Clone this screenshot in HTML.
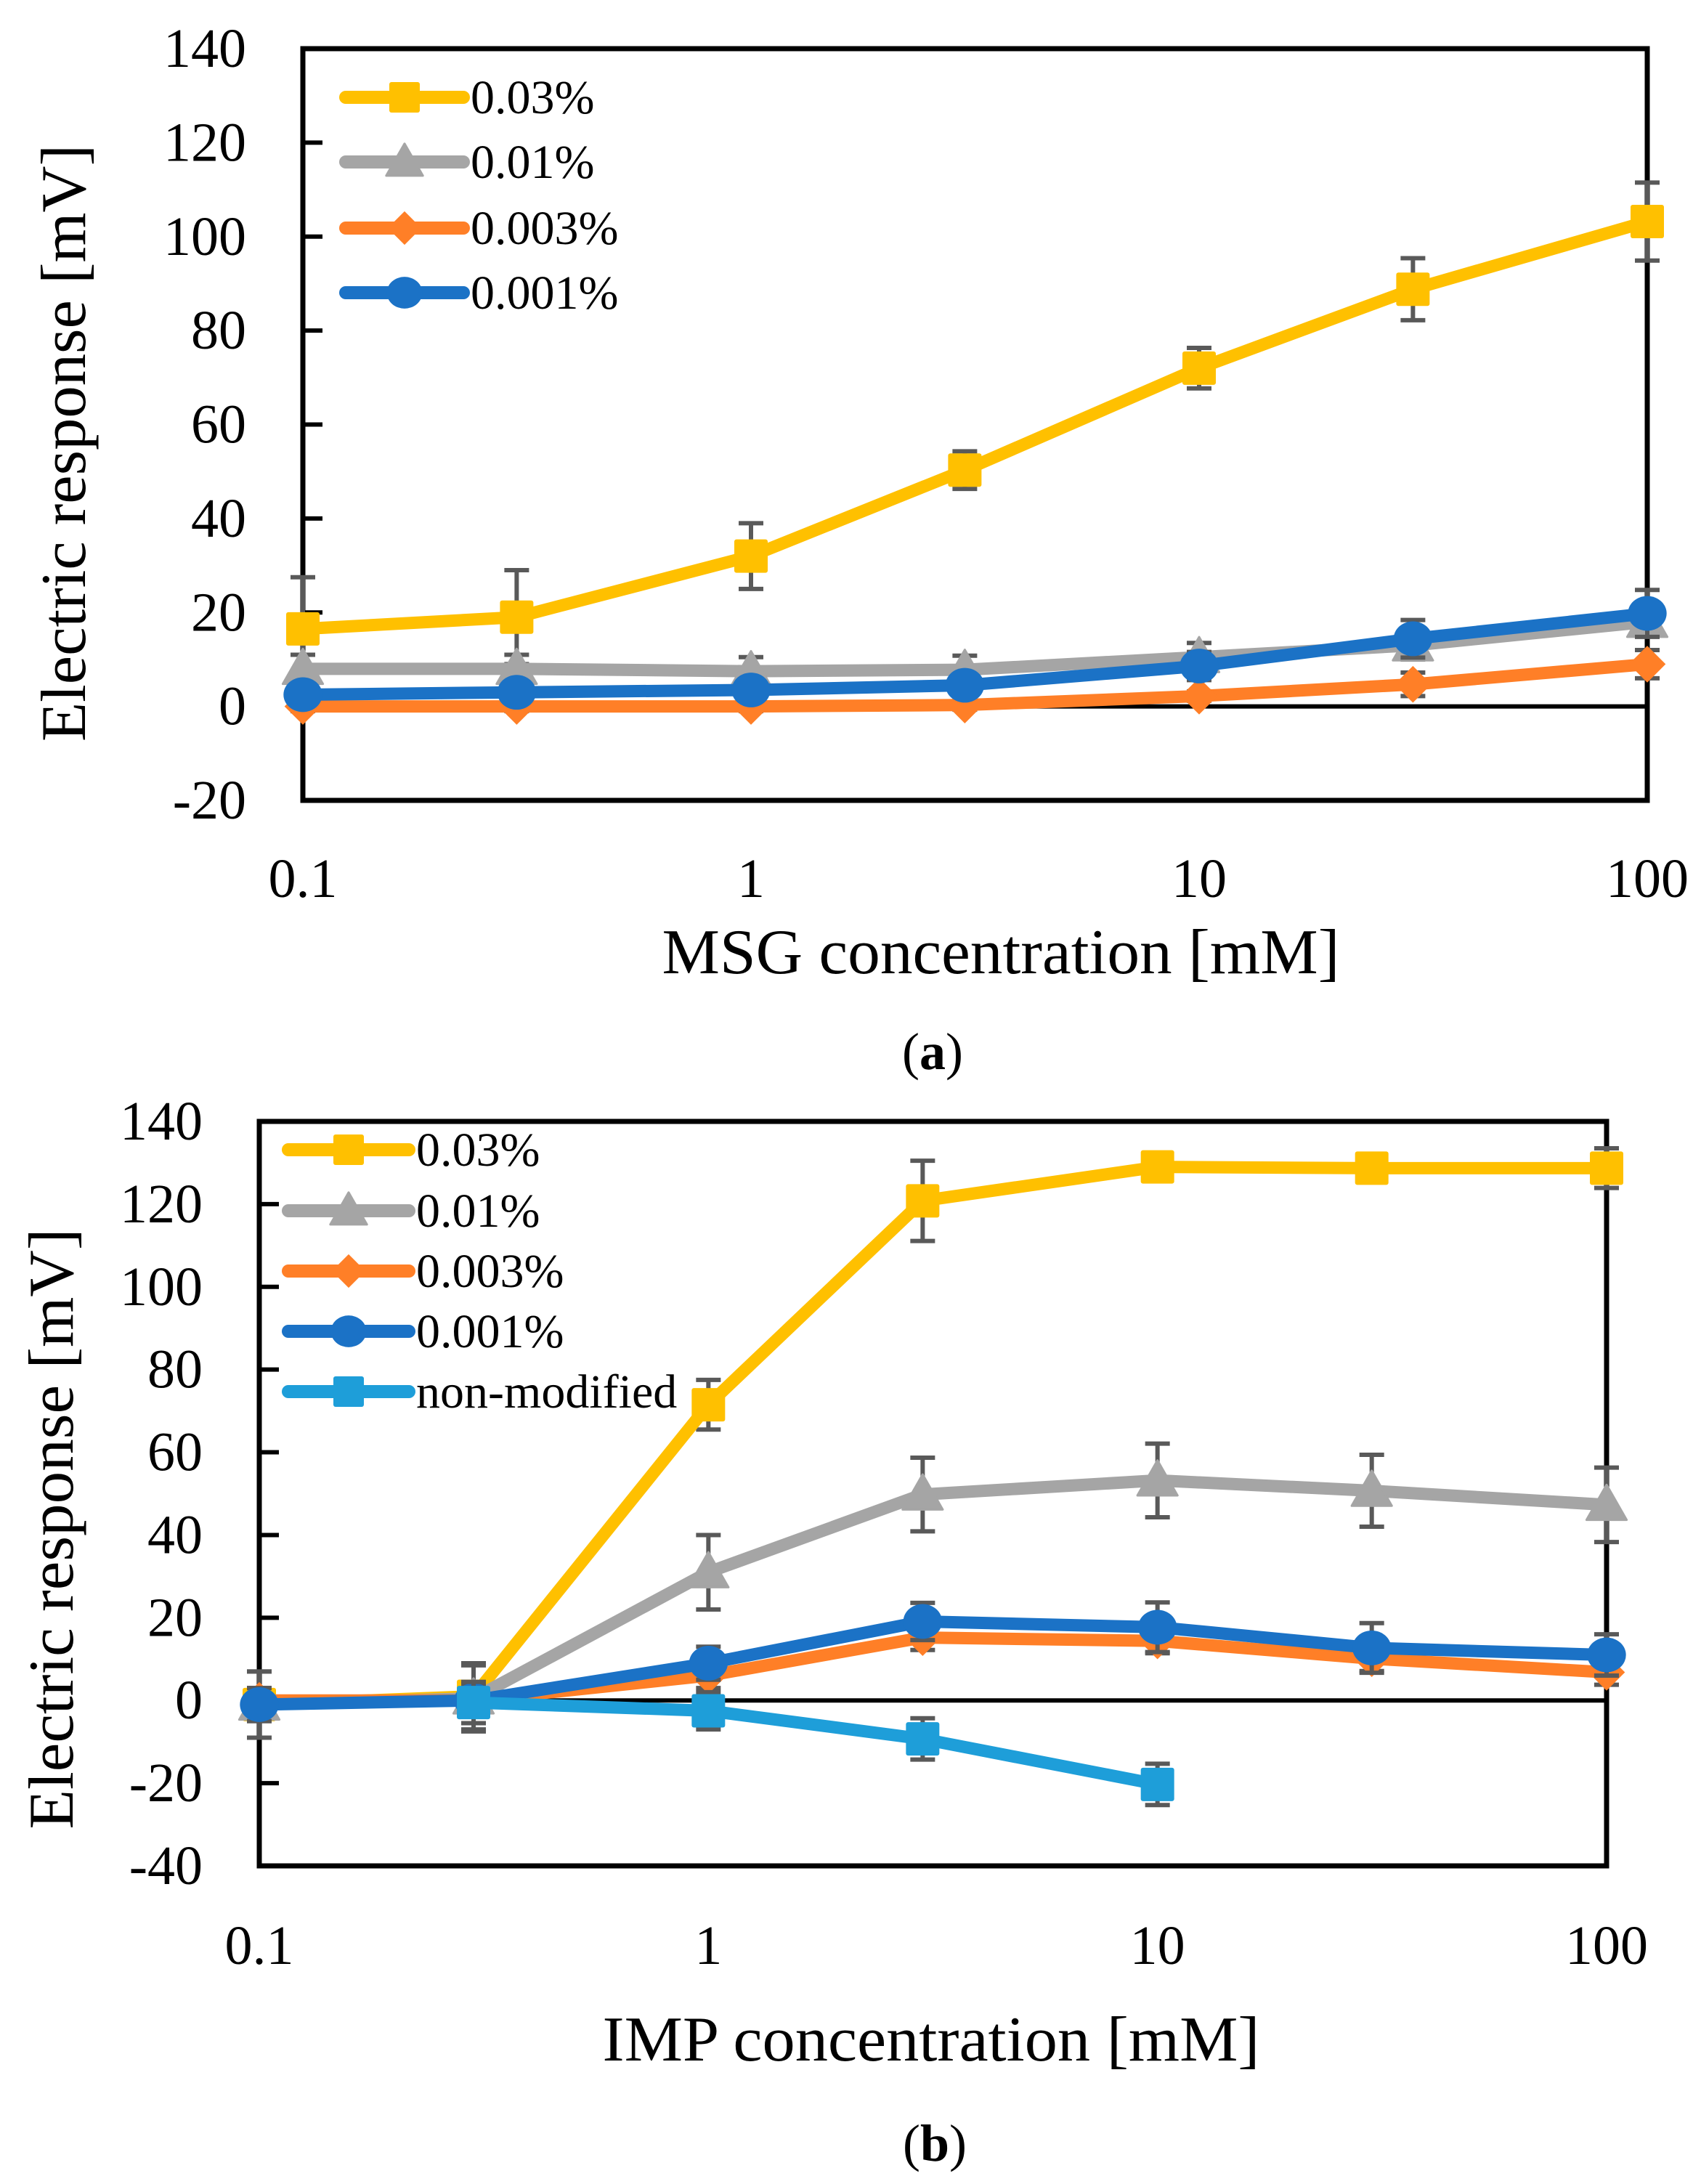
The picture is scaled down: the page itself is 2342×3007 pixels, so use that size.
<!DOCTYPE html>
<html><head><meta charset="utf-8">
<style>
html,body{margin:0;padding:0;background:#fff;}
svg{display:block;}
text{font-family:"Liberation Serif",serif;fill:#000;}
</style></head>
<body>
<svg id="fig" width="2342" height="3007" viewBox="0 0 2342 3007" xmlns="http://www.w3.org/2000/svg">
<g id="chartA"></g>
<g id="chartB"></g>
<text x="1284" y="1472" font-size="72" text-anchor="middle">(<tspan font-weight="bold">a</tspan>)</text>
<text x="1287" y="2975" font-size="72" text-anchor="middle">(<tspan font-weight="bold">b</tspan>)</text>
</svg>
<script>
// ---- data ----
const concX = [0.1, 0.3, 1, 3, 10, 30, 100];
const xTickLabels = ["0.1", "1", "10", "100"];
const xTickValues = [0.1, 1, 10, 100];
const seriesNamesA = ["0.03%", "0.01%", "0.003%", "0.001%"];
const a003 = [16.5, 19, 32, 50.3, 72, 88.8, 103.2];
const a001 = [8, 8, 7.5, 7.8, 10.5, 13, 18];
const a0003 = [0, 0, 0, 0.3, 2.2, 4.7, 9];
const a0001 = [2.5, 3, 3.5, 4.5, 8.6, 14.4, 19.8];
const a003Err = [11, 10, 7, 4, 4.3, 6.6, 8.3];
const a001Err = [3, 3, 3, 3, 3, 3, 3];
const a0003Err = [1, 1, 1, 1, 1, 2.5, 3];
const a0001Err = [2, 2, 2, 2, 3, 4, 5];
const aYTicks = [-20, 0, 20, 40, 60, 80, 100, 120, 140];

const seriesNamesB = ["0.03%", "0.01%", "0.003%", "0.001%", "non-modified"];
const b003 = [-1, 1, 71.5, 120.8, 129, 128.7, 128.7];
const b001 = [-1, 0.5, 31, 49.8, 53.2, 50.7, 47.3];
const b0003 = [0, 0, 6, 15.2, 14.4, 10.1, 6.8];
const b0001 = [-1, 0, 9, 19.1, 17.7, 12.7, 11];
const nonModX = [0.3, 1, 3, 10];
const bNon = [-0.5, -2.5, -9.3, -20.3];
const b003Err = [8, 8, 6, 9.7, 1, 1, 4.8];
const b001Err = [8, 8, 9, 8.9, 8.9, 8.7, 9];
const b0003Err = [3, 3, 3, 3, 3, 3, 3];
const b0001Err = [4, 4, 4, 4.5, 6, 6, 5];
const bNonErr = [5, 4.5, 5, 5];
const bYTicks = [-40, -20, 0, 20, 40, 60, 80, 100, 120, 140];

const NS = "http://www.w3.org/2000/svg";
const COLORS = {y:"#FFC000", g:"#A5A5A5", o:"#FF7F27", b:"#1B72C6", lb:"#1E9ED9"};
function el(parent, tag, attrs, txt){
  const e = document.createElementNS(NS, tag);
  for (const k in attrs) e.setAttribute(k, attrs[k]);
  if (txt !== undefined) e.textContent = txt;
  parent.appendChild(e);
  return e;
}
function marker(g, shape, cx, cy, color, s){
  let m;
  if (shape === "square") m = el(g, "rect", {x:cx-s/2, y:cy-s/2, width:s, height:s, rx:3, fill:color});
  else if (shape === "tri") m = el(g, "polygon", {points:`${cx},${cy-s*0.6} ${cx+s*0.6},${cy+s*0.45} ${cx-s*0.6},${cy+s*0.45}`, fill:color, "stroke-linejoin":"round", stroke:color, "stroke-width":3});
  else if (shape === "diamond") m = el(g, "polygon", {points:`${cx},${cy-s*0.55} ${cx+s*0.55},${cy} ${cx},${cy+s*0.55} ${cx-s*0.55},${cy}`, fill:color});
  else m = el(g, "ellipse", {cx:cx, cy:cy, rx:s*0.58, ry:s*0.52, fill:color});
  return m;
}
function drawChart(cfg){
  const g = document.getElementById(cfg.id);
  const X = v => cfg.left + (Math.log10(v) - Math.log10(0.1)) / 3 * (cfg.right - cfg.left);
  const Y = v => cfg.bottom - (v - cfg.yMin) / (cfg.yMax - cfg.yMin) * (cfg.bottom - cfg.top);
  cfg.yTicks.forEach(t => {
    const tk = el(g, "line", {x1:cfg.left, x2:cfg.left+27, y1:Y(t), y2:Y(t), stroke:"#000", "stroke-width":6});
    
    
    const lb = el(g, "text", {x:cfg.yLabelX, y:Y(t)+25, "font-size":76, "text-anchor":"end"}, String(t));
    
    
  });
  xTickValues.forEach((v, i) => {
    const lb = el(g, "text", {x:X(v), y:cfg.xLabelY, "font-size":76, "text-anchor":"middle"}, xTickLabels[i]);
    
    
  });
  const z = el(g, "line", {x1:cfg.left, x2:cfg.right, y1:Y(0), y2:Y(0), stroke:"#000", "stroke-width":6});
  
  
  const fr = el(g, "rect", {x:cfg.left, y:cfg.top, width:cfg.right-cfg.left, height:cfg.bottom-cfg.top, fill:"none", stroke:"#000", "stroke-width":7});
  
  
  cfg.series.forEach(s => {
    const sg = el(g, "g", {});
    
    
    s.xs.forEach((xv, i) => {
      const e = s.err[i]; if (!e) return;
      const x = X(xv), y1 = Y(s.vals[i]+e), y2 = Y(s.vals[i]-e);
      const eb = el(sg, "path", {d:`M${x},${y1}V${y2}M${x-17},${y1}H${x+17}M${x-17},${y2}H${x+17}`, stroke:"#595959", "stroke-width":6, fill:"none"});
      
      
    });
    const pts = s.xs.map((xv, i) => X(xv) + "," + Y(s.vals[i])).join(" ");
    const ln = el(sg, "polyline", {points:pts, fill:"none", stroke:s.color, "stroke-width":17, "stroke-linejoin":"round"});
    
    
    s.xs.forEach((xv, i) => {
      const m = marker(sg, s.shape, X(xv), Y(s.vals[i]), s.color, 46);
      
      
    });
  });
  const lg = el(g, "g", {});
  
  
  cfg.series.forEach((s, i) => {
    const y = cfg.legY[i];
    const it = el(lg, "g", {});
    
    
    el(it, "line", {x1:cfg.legX1, x2:cfg.legX2, y1:y, y2:y, stroke:s.color, "stroke-width":18, "stroke-linecap":"round"});
    marker(it, s.shape, (cfg.legX1+cfg.legX2)/2, y, s.color, 42);
    el(it, "text", {x:cfg.legX2+10, y:y+22, "font-size":66}, s.name);
  });
  const xt = el(g, "text", {x:cfg.xTitleX, y:cfg.xTitleY, "font-size":88, "text-anchor":"middle", textLength:cfg.xTitleW, lengthAdjust:"spacingAndGlyphs"}, cfg.xTitle);
  
  
  const yt = el(g, "text", {x:0, y:0, "font-size":88, "text-anchor":"middle", textLength:cfg.yTitleW, lengthAdjust:"spacingAndGlyphs", transform:`translate(${cfg.yTitleX},${cfg.yTitleY}) rotate(-90)`}, "Electric response [mV]");
  
  
}
drawChart({
  id:"chartA", left:417, right:2268, top:67, bottom:1102, yMin:-20, yMax:140, yTicks:aYTicks,
  yLabelX:339, xLabelY:1235, xTitle:"MSG concentration [mM]", xTitleX:1378, xTitleY:1340, xTitleW:933,
  yTitleX:117, yTitleY:610, yTitleW:822,
  legX1:476, legX2:638, legY:[134, 223, 314, 403],
  series:[
    {key:"0-03", name:seriesNamesA[0], xs:concX, vals:a003, err:a003Err, color:COLORS.y, shape:"square"},
    {key:"0-01", name:seriesNamesA[1], xs:concX, vals:a001, err:a001Err, color:COLORS.g, shape:"tri"},
    {key:"0-003", name:seriesNamesA[2], xs:concX, vals:a0003, err:a0003Err, color:COLORS.o, shape:"diamond"},
    {key:"0-001", name:seriesNamesA[3], xs:concX, vals:a0001, err:a0001Err, color:COLORS.b, shape:"circle"}
  ]
});
drawChart({
  id:"chartB", left:357, right:2212, top:1544, bottom:2569, yMin:-40, yMax:140, yTicks:bYTicks,
  yLabelX:279, xLabelY:2704, xTitle:"IMP concentration [mM]", xTitleX:1282, xTitleY:2837, xTitleW:905,
  yTitleX:100, yTitleY:2105, yTitleW:827,
  legX1:397, legX2:563, legY:[1583, 1667, 1750, 1833, 1916],
  series:[
    {key:"0-03", name:seriesNamesB[0], xs:concX, vals:b003, err:b003Err, color:COLORS.y, shape:"square"},
    {key:"0-01", name:seriesNamesB[1], xs:concX, vals:b001, err:b001Err, color:COLORS.g, shape:"tri"},
    {key:"0-003", name:seriesNamesB[2], xs:concX, vals:b0003, err:b0003Err, color:COLORS.o, shape:"diamond"},
    {key:"0-001", name:seriesNamesB[3], xs:concX, vals:b0001, err:b0001Err, color:COLORS.b, shape:"circle"},
    {key:"non-modified", name:seriesNamesB[4], xs:nonModX, vals:bNon, err:bNonErr, color:COLORS.lb, shape:"square"}
  ]
});
</script>
</body></html>
